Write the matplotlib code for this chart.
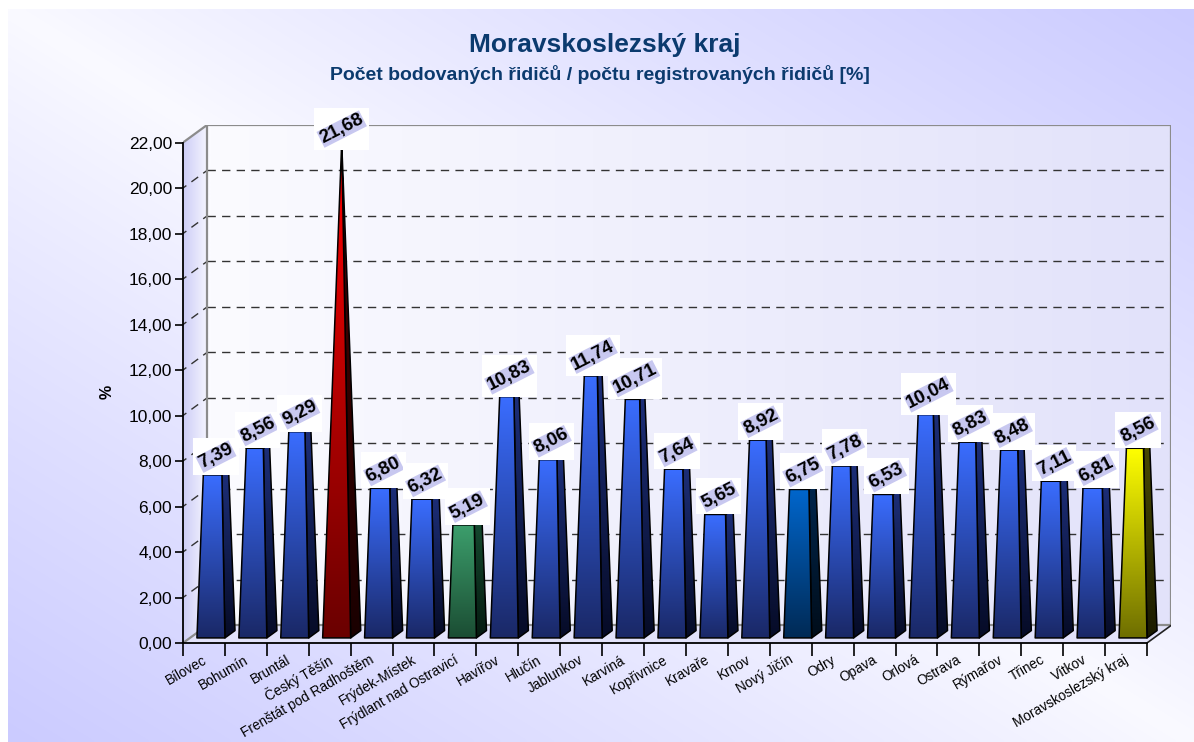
import numpy as np
import matplotlib.pyplot as plt
from matplotlib.patches import Polygon, Rectangle
from matplotlib.colors import to_rgb

plt.rcParams['font.family'] = ['Liberation Sans', 'DejaVu Sans']

# ----------------------------------------------------------------------
# data
# ----------------------------------------------------------------------

okresy = ['Bílovec', 'Bohumín', 'Bruntál', 'Český Těšín',
          'Frenštát pod Radhoštěm', 'Frýdek-Místek',
          'Frýdlant nad Ostravicí', 'Havířov', 'Hlučín', 'Jablunkov',
          'Karviná', 'Kopřivnice', 'Kravaře', 'Krnov', 'Nový Jičín',
          'Odry', 'Opava', 'Orlová', 'Ostrava', 'Rýmařov', 'Třinec',
          'Vítkov', 'Moravskoslezský kraj']
hodnoty = [7.39, 8.56, 9.29, 21.68, 6.80, 6.32, 5.19, 10.83, 8.06, 11.74,
           10.71, 7.64, 5.65, 8.92, 6.75, 7.78, 6.53, 10.04, 8.83, 8.48,
           7.11, 6.81, 8.56]
y_ticks = np.arange(0, 23, 2)

# colour of the individual bars (front top, front bottom, side top, side bottom)
palety = {
    'modra': ('#3a6dff', '#1a2866', '#1d2f7a', '#060b26'),
    'cervena': ('#ff0000', '#6a0000', '#4a0000', '#1a0000'),
    'zelena': ('#3c9e6c', '#1b4d33', '#154a30', '#061a10'),
    'tmave_modra': ('#0066cc', '#002a55', '#00264d', '#000d1a'),
    'zluta': ('#ffff00', '#6e6e00', '#4a4a00', '#1a1a00'),
}
barvy = ['modra'] * len(okresy)
barvy[3] = 'cervena'
barvy[6] = 'zelena'
barvy[14] = 'tmave_modra'
barvy[-1] = 'zluta'

# ----------------------------------------------------------------------
# geometry of the pseudo 3D box
# ----------------------------------------------------------------------

W, H = 1194, 742
n = len(okresy)
DX = 0.573      # depth offset in category units
DY = 0.77       # depth offset in value units
YMAX = 22.0
APEX = 22.0     # height where the pyramids would meet
A = 0.334       # half width of the pyramid base
B = 0.21        # half depth of the pyramid base
ZC = 0.5


def proj(x, y, z):
    return (x + z * DX, y + z * DY)


def grad_img(c1, c2, vertical=True, npts=128):
    c1, c2 = np.array(to_rgb(c1)), np.array(to_rgb(c2))
    t = np.linspace(0, 1, npts)
    img = c1[None, :] * (1 - t[:, None]) + c2[None, :] * t[:, None]
    if vertical:
        return img[:, None, :]
    return img[None, :, :]


def fill_gradient(ax, verts, c1, c2, zorder, vertical=True, edge='black', lw=1.1):
    poly = Polygon(verts, closed=True, facecolor='none', edgecolor=edge,
                   lw=lw, zorder=zorder + 0.01, joinstyle='round')
    ax.add_patch(poly)
    xs = [p[0] for p in verts]
    ys = [p[1] for p in verts]
    im = ax.imshow(grad_img(c1, c2, vertical), aspect='auto',
                   extent=(min(xs), max(xs), min(ys), max(ys)),
                   interpolation='bilinear', zorder=zorder)
    im.set_clip_path(poly)
    return poly


fig = plt.figure(figsize=(W / 100, H / 100), dpi=100)
fig.patch.set_facecolor('white')

# background of the whole picture
bg = fig.add_axes([8 / W, 0, 1 - 8 / W, (H - 9) / H])
u, v = np.meshgrid(np.linspace(0, 1, 300), np.linspace(0, 1, 200))
t = np.clip(np.abs(u - v), 0, 1) ** 0.9
c_white = np.array([250, 250, 255]) / 255
c_lav = np.array([203, 203, 255]) / 255
bg.imshow(c_white * (1 - t[..., None]) + c_lav * t[..., None],
          aspect='auto', interpolation='bilinear')
bg.axis('off')

x0_px, x1_px = 183, 1171
y0_px, y1_px = 643, 125
ax = fig.add_axes([x0_px / W, (H - y0_px) / H,
                   (x1_px - x0_px) / W, (y0_px - y1_px) / H])
ax.set_facecolor('none')

xl, xr = -0.5, n - 0.5

# back wall
fill_gradient(ax, [(xl + DX, DY), (xr + DX, DY), (xr + DX, YMAX + DY),
                   (xl + DX, YMAX + DY)],
              '#fbfbff', '#e2e2fa', 0, vertical=False, edge='none')
# left wall
fill_gradient(ax, [(xl, 0), (xl + DX, DY), (xl + DX, YMAX + DY), (xl, YMAX)],
              '#cdcdf6', '#f6f6ff', 0, vertical=False, edge='none')
# floor
ax.add_patch(Polygon([(xl, 0), (xr, 0), (xr + DX, DY), (xl + DX, DY)],
                     closed=True, facecolor='#e2e2fa', edgecolor='none',
                     zorder=0.5))

# grid lines on the walls
for yv in y_ticks[1:-1]:
    ax.plot([xl + DX, xr + DX], [yv + DY, yv + DY], color='#333333', lw=1.0,
            linestyle=(0, (6, 4.5)), zorder=1)
    ax.plot([xl, xl + DX], [yv, yv + DY], color='#333333', lw=1.0,
            linestyle=(3, (6, 4.5)), zorder=1)

# edges of the box
edge_kw = dict(color='#8c8c8c', lw=1.6, zorder=1.2, solid_capstyle='butt')
ax.plot([xl, xl + DX, xr + DX, xr + DX], [YMAX, YMAX + DY, YMAX + DY, DY], **edge_kw)
ax.plot([xl + DX, xl + DX, xr + DX], [YMAX + DY, DY, DY], **edge_kw)
ax.plot([xl, xl + DX], [0, DY], **edge_kw)
ax.plot([xr, xr + DX], [0, DY], color='#222222', lw=1.2, zorder=1.2)

# pyramid bars
for i, (val, key) in enumerate(zip(hodnoty, barvy)):
    ft, fb, st, sb = palety[key]
    s = 1 - val / APEX
    zf, zb = ZC - B, ZC + B
    zft, zbt = ZC - B * s, ZC + B * s
    ytop = val - zft * DY
    bl = proj(i - A, 0, zf)
    br = proj(i + A, 0, zf)
    brb = proj(i + A, 0, zb)
    tl = proj(i - A * s, ytop, zft)
    tr = proj(i + A * s, ytop, zft)
    trb = proj(i + A * s, ytop, zbt)
    tlb = proj(i - A * s, ytop, zbt)
    fill_gradient(ax, [br, brb, trb, tr], st, sb, 2)
    fill_gradient(ax, [tl, tr, trb, tlb], st, st, 2)
    fill_gradient(ax, [bl, br, tr, tl], ft, fb, 2.1)

# value labels
popisky = []
for i, val in enumerate(hodnoty):
    cx = i + ZC * DX
    txt = ax.annotate(f'{val:.2f}'.replace('.', ','), xy=(cx, val),
                      xytext=(0, 20), textcoords='offset pixels',
                      ha='center', va='center', rotation=27,
                      rotation_mode='anchor', fontsize=13.5,
                      fontweight='bold', color='black', zorder=10 + 2 * i + 1,
                      annotation_clip=False,
                      bbox=dict(boxstyle='square,pad=0.02', fc='#c8c8f0',
                                ec='none'))
    popisky.append(txt)

# axes, ticks and labels
ax.set_xlim(xl, xr + DX)
ax.set_ylim(0, YMAX + DY)
for side in ['top', 'right']:
    ax.spines[side].set_visible(False)
ax.spines['left'].set_bounds(0, YMAX)
ax.spines['bottom'].set_bounds(xl, xr)
ax.spines['left'].set_linewidth(1.3)
ax.spines['bottom'].set_linewidth(1.3)
ax.spines['left'].set_zorder(5)
ax.spines['bottom'].set_zorder(5)

ax.set_yticks(y_ticks)
ax.set_yticklabels([f'{yv:.2f}'.replace('.', ',') for yv in y_ticks],
                   fontsize=12.5)
ax.tick_params(axis='y', length=6, width=1.2, pad=2)

ax.set_xticks(np.arange(xl, xr + 1))
ax.set_xticklabels([])
ax.tick_params(axis='x', which='major', length=9, width=1.2)
ax.set_xticks(np.arange(n) - 0.05, okresy, minor=True)
ax.tick_params(axis='x', which='minor', length=0, pad=7, labelsize=9.8)
for lab in ax.get_xticklabels(minor=True):
    lab.set_rotation(30)
    lab.set_ha('right')
    lab.set_va('top')
    lab.set_rotation_mode('anchor')

fig.text(605 / W, 1 - 45 / H, 'Moravskoslezský kraj', ha='center',
         va='center', fontsize=19, fontweight='bold', color='#0b3a6e')
fig.text(600 / W, 1 - 75 / H,
         'Počet bodovaných řidičů / počtu registrovaných řidičů [%]',
         ha='center', va='center', fontsize=14, fontweight='bold',
         color='#0b3a6e')
fig.text(107 / W, 1 - 392 / H, '%', rotation=90, ha='center', va='center',
         fontsize=11.5, fontweight='bold')

# white boxes behind the value labels, bottom edge on the bar top
fig.canvas.draw()
renderer = fig.canvas.get_renderer()
pad = 2.5
inv = ax.transData.inverted()
for i, (txt, val) in enumerate(zip(popisky, hodnoty)):
    ext = txt.get_window_extent(renderer)
    w, h = ext.width + 2 * pad, ext.height + 2 * pad
    txt.xyann = (0, h / 2)
    cx_px, top_px = ax.transData.transform((i + ZC * DX, val))
    (x0d, y0d) = inv.transform((cx_px - w / 2, top_px))
    (x1d, y1d) = inv.transform((cx_px + w / 2, top_px + h))
    ax.add_patch(Rectangle((x0d, y0d), x1d - x0d, y1d - y0d, facecolor='white',
                           edgecolor='none', zorder=10 + 2 * i,
                           clip_on=False))

fig.savefig('out.png', dpi=100)
